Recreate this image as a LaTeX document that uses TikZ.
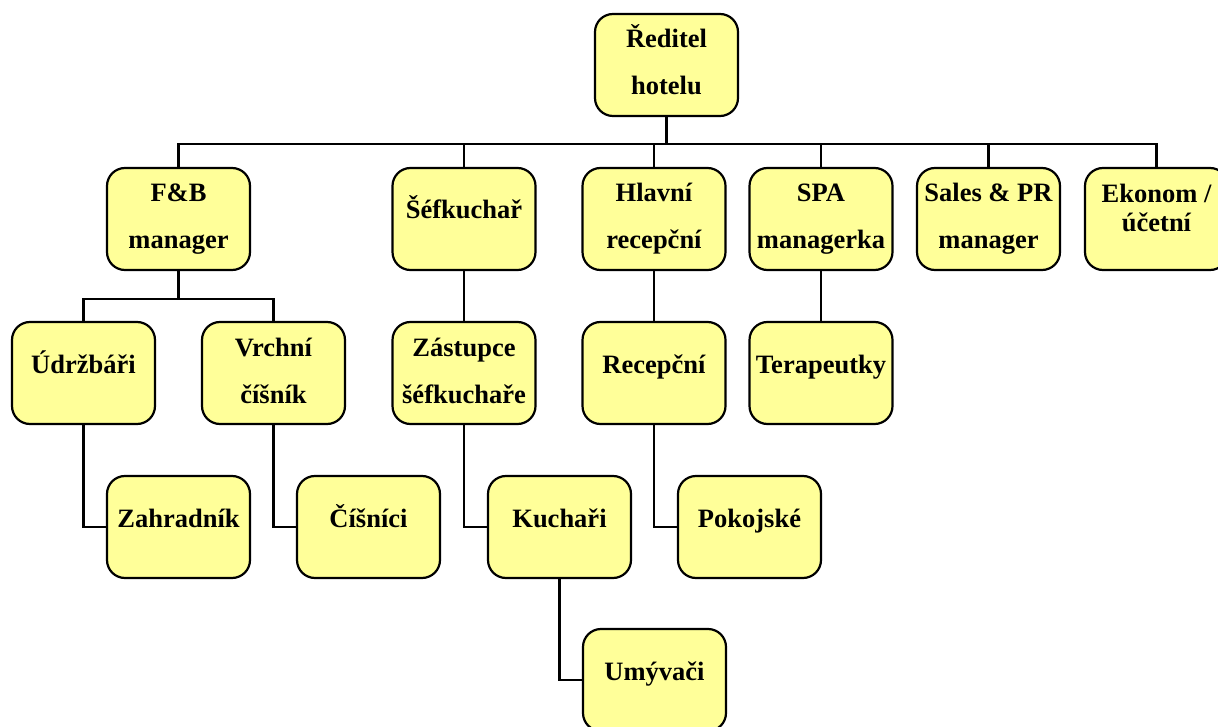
\documentclass[tikz,border=0pt]{standalone}
\usepackage{fontspec}
\setmainfont{Liberation Serif}
\newcommand\TwoL[2]{\raisebox{17pt}[0pt][0pt]{\makebox[0pt]{#1}}\raisebox{-30pt}[0pt][0pt]{\makebox[0pt]{#2}}}
\newcommand\TwoLtight[2]{\raisebox{16pt}[0pt][0pt]{\makebox[0pt]{#1}}\raisebox{-13pt}[0pt][0pt]{\makebox[0pt]{#2}}}
\newcommand\OneL[1]{\raisebox{0pt}[0pt][0pt]{\makebox[0pt]{#1}}}
\definecolor{boxfill}{HTML}{FFFF99}
\tikzset{
  orgbox/.style={draw=black, fill=boxfill, line width=2.2pt, rounded corners=18pt,
    minimum width=143pt, minimum height=102pt, inner sep=0pt,
    font=\fontsize{26.5pt}{30pt}\selectfont\bfseries},
  conn/.style={draw=black, line width=2.6pt}
}
\begin{document}
\begin{tikzpicture}[x=1pt,y=-1pt]
\useasboundingbox (0,0) rectangle (1218,727);
% nodes
\node[orgbox] (dir)   at (666.5,65)  {\TwoL{Ředitel}{hotelu}};
\node[orgbox] (fb)    at (178.5,219) {\TwoL{F\&B}{manager}};
\node[orgbox] (chef)  at (464,219)   {\OneL{Šéfkuchař}};
\node[orgbox] (hr)    at (654,219)   {\TwoL{Hlavní}{recepční}};
\node[orgbox] (spa)   at (821,219)   {\TwoL{SPA}{managerka}};
\node[orgbox] (sales) at (988.5,219) {\TwoL{Sales \& PR}{manager}};
\node[orgbox] (econ)  at (1156.5,219){\TwoLtight{Ekonom /}{účetní}};
\node[orgbox] (udr)   at (83.5,373)  {\OneL{Údržbáři}};
\node[orgbox] (vrch)  at (273.5,373) {\TwoL{Vrchní}{číšník}};
\node[orgbox] (zast)  at (464,373)   {\TwoL{Zástupce}{šéfkuchaře}};
\node[orgbox] (rec)   at (654,373)   {\OneL{Recepční}};
\node[orgbox] (ter)   at (821,373)   {\OneL{Terapeutky}};
\node[orgbox] (zah)   at (178.5,527) {\OneL{Zahradník}};
\node[orgbox] (cis)   at (368.5,527) {\OneL{Číšníci}};
\node[orgbox] (kuch)  at (559.5,527) {\OneL{Kuchaři}};
\node[orgbox] (pok)   at (749.5,527) {\OneL{Pokojské}};
\node[orgbox] (umy)   at (654.5,680) {\OneL{Umývači}};
% connectors
\foreach \c in {fb,chef,hr,spa,sales,econ}
  \draw[conn] (dir.south) -- ++(0,27) -| (\c.north);
\foreach \c in {udr,vrch}
  \draw[conn] (fb.south) -- ++(0,28) -| (\c.north);
\draw[conn] (chef.south) -- (zast.north);
\draw[conn] (hr.south) -- (rec.north);
\draw[conn] (spa.south) -- (ter.north);
\draw[conn] (udr.south) |- (zah.west);
\draw[conn] (vrch.south) |- (cis.west);
\draw[conn] (zast.south) |- (kuch.west);
\draw[conn] (rec.south) |- (pok.west);
\draw[conn] (kuch.south) |- (umy.west);
\end{tikzpicture}
\end{document}
